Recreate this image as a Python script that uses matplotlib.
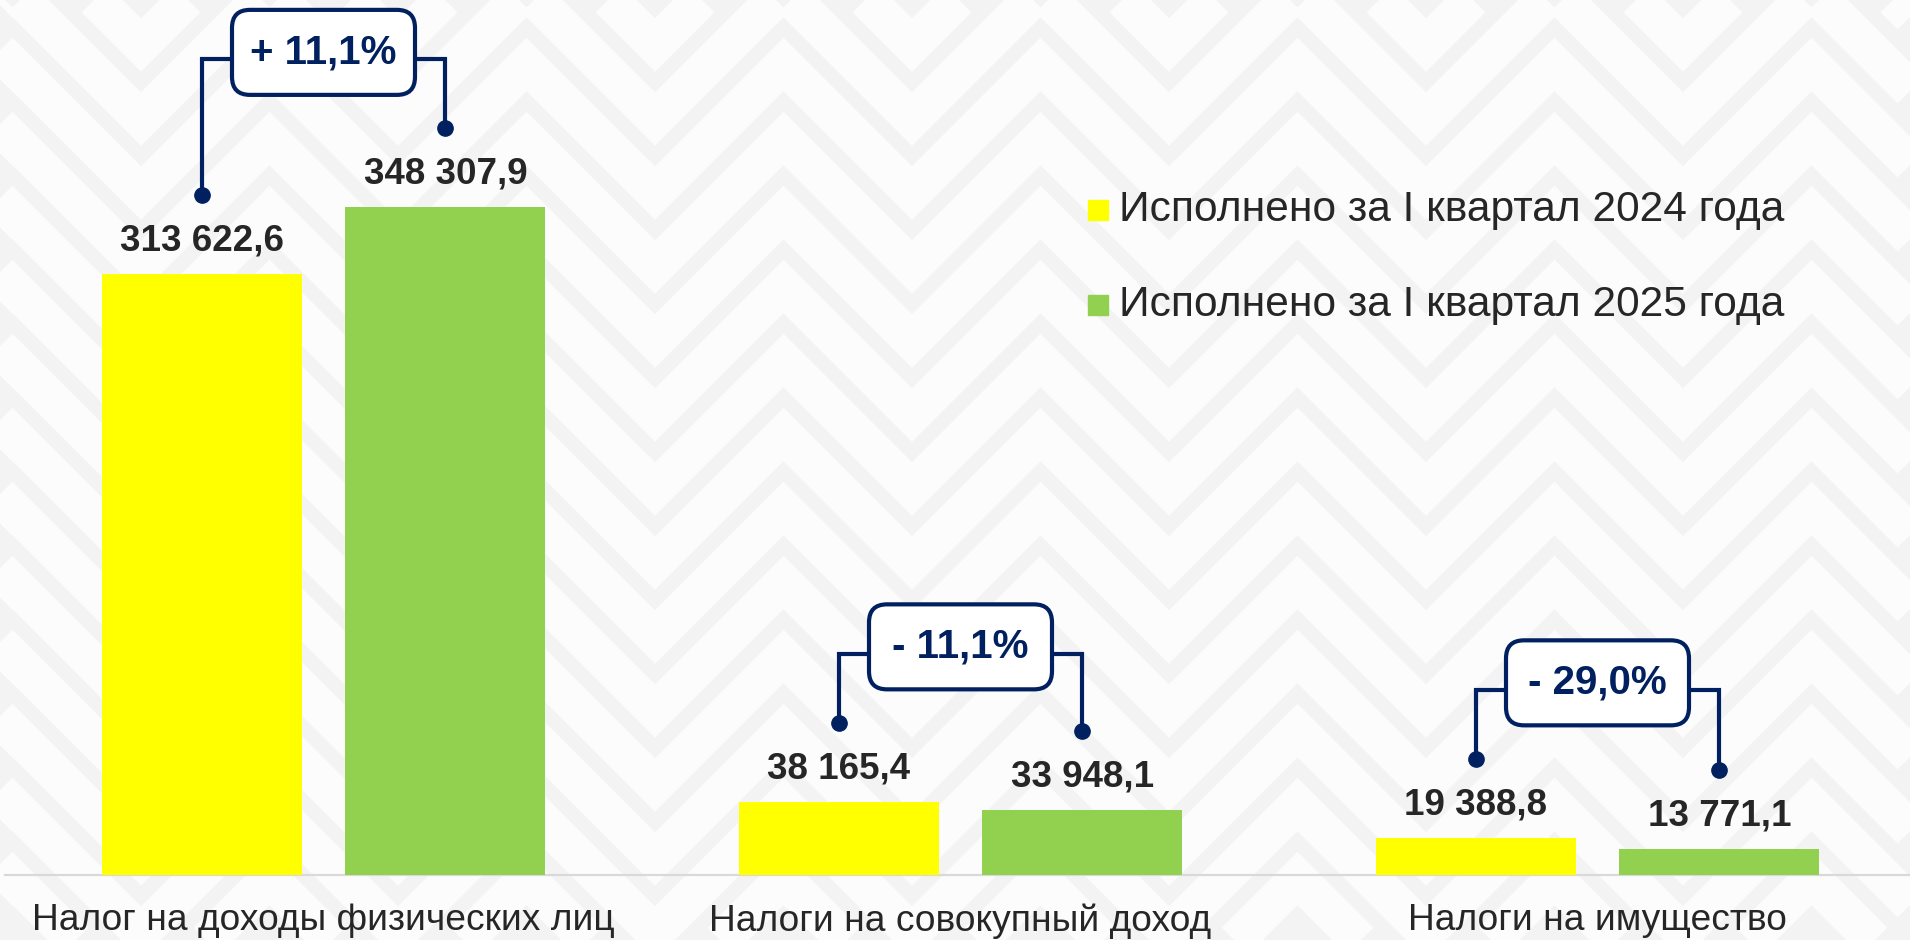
import matplotlib
matplotlib.use("Agg")
import matplotlib.pyplot as plt
import numpy as np
from matplotlib.patches import FancyBboxPatch, Rectangle

# ---------------- data ----------------
categories = ["Налог на доходы физических лиц",
              "Налоги на совокупный доход",
              "Налоги на имущество"]
series_names = ["Исполнено за I квартал 2024 года",
                "Исполнено за I квартал 2025 года"]
values_2024 = [313622.6, 38165.4, 19388.8]
values_2025 = [348307.9, 33948.1, 13771.1]
labels_2024 = ["313 622,6", "38 165,4", "19 388,8"]
labels_2025 = ["348 307,9", "33 948,1", "13 771,1"]
change_labels = ["+ 11,1%", "- 11,1%", "- 29,0%"]

# ---------------- style ----------------
YELLOW = "#FFFF00"
GREEN = "#92D050"
NAVY = "#002060"
TXT = "#262626"
FONT = ["Liberation Sans", "DejaVu Sans"]
plt.rcParams["font.family"] = FONT

W, H = 1910, 940
fig = plt.figure(figsize=(W / 100, H / 100), dpi=100)

# background ornament (pixel coordinates)
bg = fig.add_axes([0, 0, 1, 1], zorder=0)
bg.set_xlim(0, W)
bg.set_ylim(H, 0)
bg.axis("off")
bg.add_patch(Rectangle((0, 0), W, H, color="#f3f3f3", zorder=0))
P = 257.0
x0 = 655.0
xs = np.arange(x0 - 4 * P, W + 2 * P, P / 2)
phase = np.array([0 if int(round((x - x0) / (P / 2))) % 2 == 0 else 1 for x in xs])
for base in np.arange(193 - 74 * 4, H + 74 * 3, 74):
    ys = base - phase * (P / 2)
    bg.plot(xs, ys, color="#fcfcfc", lw=38 * 0.72, solid_joinstyle="miter",
            solid_capstyle="butt", zorder=1)

# legend (pixel coordinates)
leg_colors = [YELLOW, GREEN]
leg_y = [210, 305]
for name, c, y in zip(series_names, leg_colors, leg_y):
    bg.add_patch(Rectangle((1088, y - 10), 20, 20, color=c, zorder=3))
    bg.text(1119, y, name, fontsize=30.6, color=TXT, va="center", ha="left",
            zorder=3)

# ---------------- main chart ----------------
ax = fig.add_axes([5 / W, (H - 875) / H, 1911 / W, 875 / H], zorder=2)
ax.patch.set_alpha(0)
ax.set_xlim(-0.5, 2.5)
ax.set_ylim(0, 456500)
for s in ax.spines.values():
    s.set_visible(False)
ax.set_xticks([])
ax.set_yticks([])

ux = 3.0 / 1911      # data units per pixel (x)
uy = 456500 / 875.0  # data units per pixel (y)

x = np.arange(len(categories))
off = 0.1915
bw = 0.314
ax.bar(x - off, values_2024, bw, color=YELLOW, zorder=2)
ax.bar(x + off, values_2025, bw, color=GREEN, zorder=2)
ax.axhline(0, color="#d9d9d9", lw=1.6, zorder=1, clip_on=False)

for i in range(len(categories)):
    xl, xr = x[i] - off, x[i] + off
    v1, v2 = values_2024[i], values_2025[i]
    ax.text(xl, v1 + 33 * uy, labels_2024[i], ha="center", va="center",
            fontsize=26.5, fontweight="bold", color=TXT)
    ax.text(xr, v2 + 33 * uy, labels_2025[i], ha="center", va="center",
            fontsize=26.5, fontweight="bold", color=TXT)
    ax.text(x[i], -46 * uy, categories[i], ha="center", va="center",
            fontsize=26.7, color=TXT, clip_on=False)

    dl = v1 + 79 * uy
    dr = v2 + 79 * uy
    yc = max(dl, dr) + 69 * uy
    bwid = 183 * ux
    bh = 85 * uy
    yb = yc + 7 * uy
    ax.plot([xl, xl, x[i] - bwid / 2], [dl, yc, yc], color=NAVY, lw=3,
            solid_joinstyle="miter", zorder=4)
    ax.plot([xr, xr, x[i] + bwid / 2], [dr, yc, yc], color=NAVY, lw=3,
            solid_joinstyle="miter", zorder=4)
    ax.plot([xl, xr], [dl, dr], "o", color=NAVY, ms=11, zorder=5)
    box = FancyBboxPatch((x[i] - bwid / 2, yb - bh / 2), bwid, bh,
                         boxstyle=f"round,pad=0,rounding_size={18 * ux}",
                         mutation_aspect=uy / ux, fc="white", ec=NAVY,
                         lw=3, zorder=6, clip_on=False)
    ax.add_patch(box)
    ax.text(x[i], yb, change_labels[i], ha="center", va="center",
            fontsize=29, fontweight="bold", color=NAVY, zorder=7)

fig.savefig("out.png", dpi=100)
